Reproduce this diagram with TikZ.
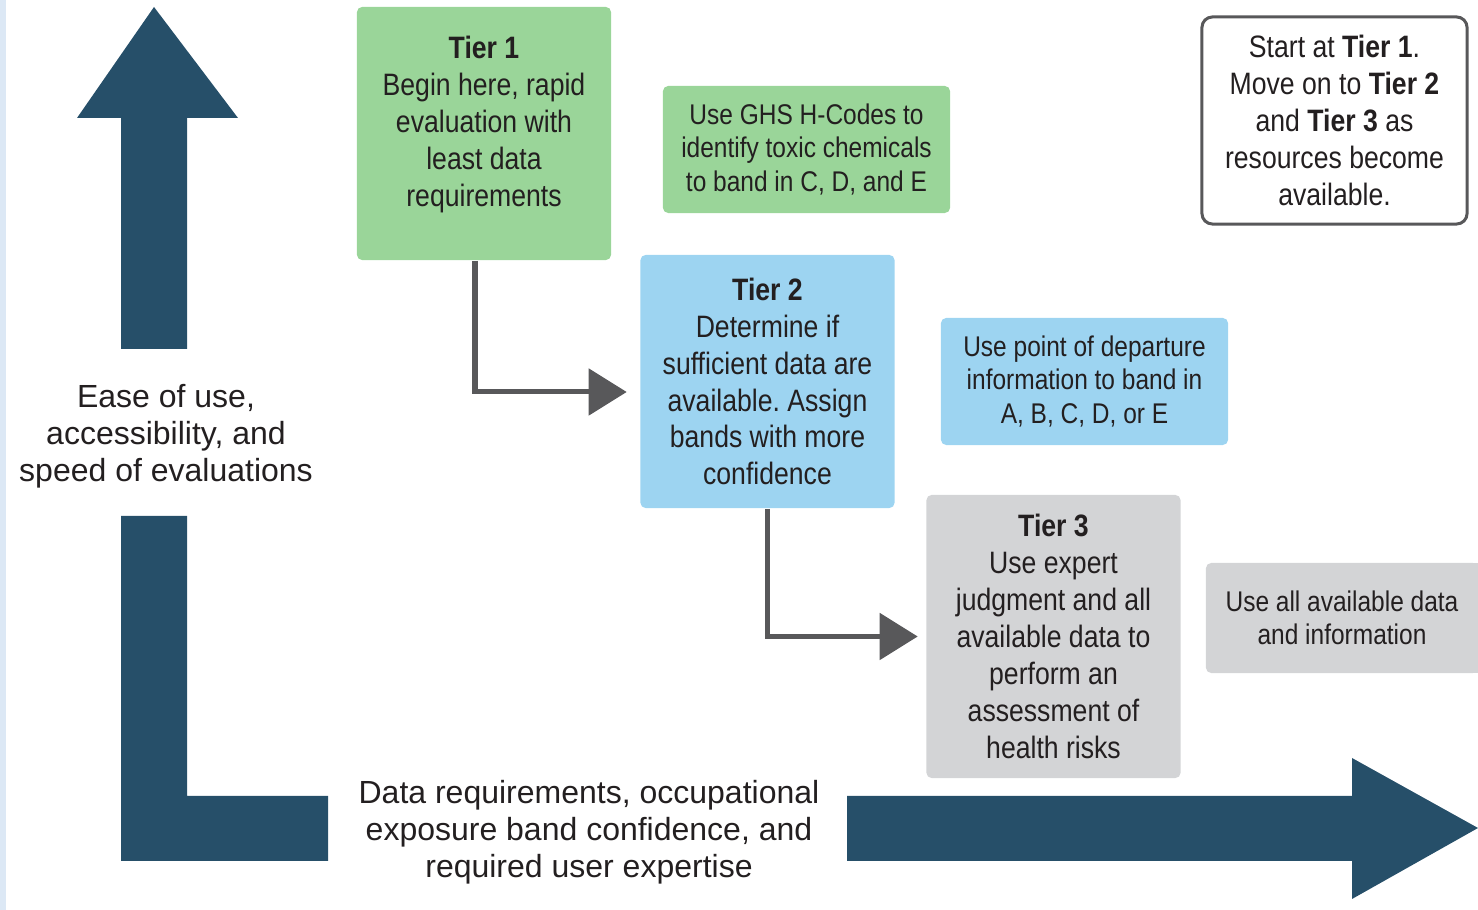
\documentclass[tikz,border=0pt]{standalone}
\usepackage{fontspec}
\setmainfont{Liberation Sans}
\newfontfamily\condfont[FakeStretch=0.86]{Liberation Sans}
\usepackage{xcolor}
\usetikzlibrary{arrows.meta}
\frenchspacing
\definecolor{axisblue}{HTML}{264F69}
\definecolor{tiergreen}{HTML}{9AD599}
\definecolor{tierblue}{HTML}{9DD4F1}
\definecolor{tiergray}{HTML}{D3D4D6}
\definecolor{conngray}{HTML}{58585A}
\definecolor{inkblack}{HTML}{231F20}
\definecolor{edgeblue}{HTML}{DCE8F5}
\tikzset{
  tierbox/.style={rounded corners=1.5pt, align=center, text=inkblack,
    font=\condfont\fontsize{8.8}{10.5}\selectfont, minimum width=2.54cm},
  notebox/.style={rounded corners=1.5pt, align=center, text=inkblack,
    font=\condfont\fontsize{8.1}{9.4}\selectfont, minimum width=2.87cm},
  axislabel/.style={align=center, text=inkblack, font=\fontsize{9.1}{10.5}\selectfont},
  conn/.style={draw=conngray, line width=0.05cm, ->}
}
\begin{document}
\begin{tikzpicture}[x=0.01cm, y=-0.01cm, >={Triangle[length=0.38cm,width=0.46cm]}]
	\useasboundingbox (0,0) rectangle (1478,910);
	\fill[edgeblue] (0,0) rectangle (6,910);
	%axes
	\fill[axisblue] (121,349) -- (121,118) -- (77,118) -- (154,7) -- (238,118) -- (187,118) -- (187,349) -- cycle;
	\fill[axisblue] (121,516) -- (187,516) -- (187,796) -- (328,796) -- (328,861) -- (121,861) -- cycle;
	\fill[axisblue] (847,796) -- (1352,796) -- (1352,758) -- (1478,828) -- (1352,899) -- (1352,861) -- (847,861) -- cycle;
	\node[axislabel] (ease) at (166,436) {Ease of use,\\accessibility, and\\speed of evaluations};
	\node[axislabel] (datareq) at (589,832) {Data requirements, occupational\\exposure band confidence, and\\required user expertise};
	%tier 1
	\node[tierbox, fill=tiergreen, minimum height=2.53cm] (tier1) at (484,133.5) {\textbf{Tier 1}\\Begin here, rapid\\evaluation with\\least data\\requirements\\[-3.5pt]\mbox{}};
	\node[notebox, fill=tiergreen, minimum height=1.27cm] (ghs) at (806.5,149.5) {Use GHS H-Codes to\\identify toxic chemicals\\to band in C, D, and E};
	%tier 2
	\node[tierbox, fill=tierblue, minimum height=2.53cm] (tier2) at (767.5,381.5) {\textbf{Tier 2}\\Determine if\\sufficient data are\\available. Assign\\bands with more\\confidence};
	\node[notebox, fill=tierblue, minimum height=1.27cm] (pod) at (1084.5,381.5) {Use point of departure\\information to band in\\A, B, C, D, or E};
	%tier 3
	\node[tierbox, fill=tiergray, minimum height=2.83cm] (tier3) at (1053.5,636.5) {\textbf{Tier 3}\\Use expert\\judgment and all\\available data to\\perform an\\assessment of\\health risks};
	\fill[tiergray] (1400,563) rectangle (1490,673);
	\node[notebox, fill=tiergray, minimum width=2.72cm, minimum height=1.10cm] (alldata) at (1342,618) {Use all available data\\and information};
	%start note
	\node[tierbox, draw=conngray, line width=0.03cm, rounded corners=3pt, minimum width=2.65cm, minimum height=2.07cm] (start) at (1334.5,120.5) {Start at \textbf{Tier 1}.\\Move on to \textbf{Tier 2}\\and \textbf{Tier 3} as\\resources become\\available.};
	%connectors
	\draw[conn, shorten >=0.13cm] ([xshift=-0.09cm]tier1.south) |- ([yshift=-0.105cm]tier2.west);
	\draw[conn, shorten >=0.08cm] (tier2.south) |- (tier3.west);
\end{tikzpicture}
\end{document}
